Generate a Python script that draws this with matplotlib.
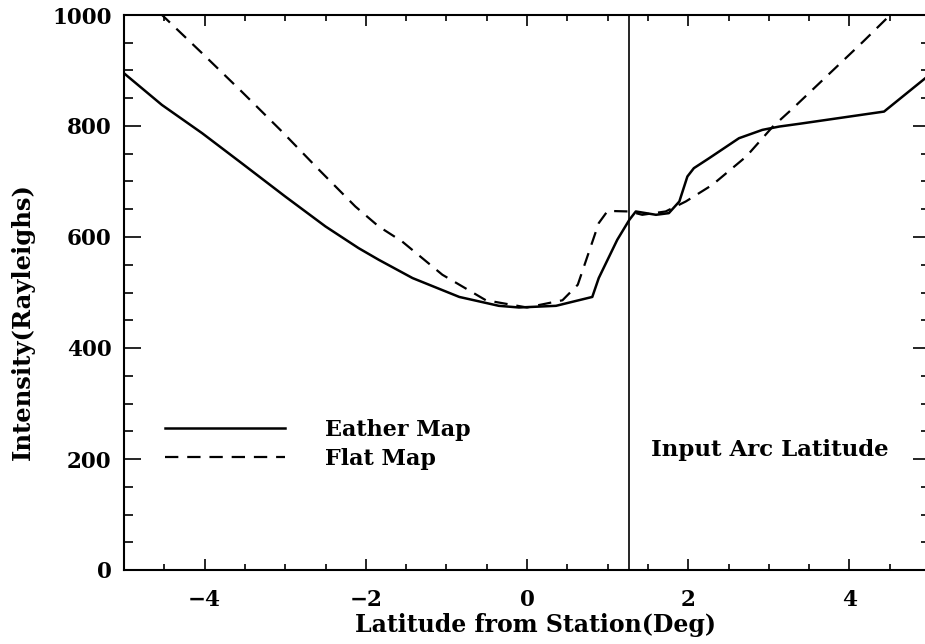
import matplotlib
matplotlib.use('Agg')
import matplotlib.pyplot as plt
from matplotlib.ticker import MultipleLocator

# Eather Map (solid)
eather_x = [-5.0, -4.53, -4.03, -3.54, -3.0, -2.5, -2.09, -1.84, -1.42, -0.84,
            -0.35, -0.10, 0.36, 0.81, 0.89, 1.12, 1.27, 1.35, 1.60, 1.76,
            1.89, 1.99, 2.07, 2.26, 2.63, 2.92, 3.13, 3.38, 4.43, 5.0]
eather_y = [895, 838, 787, 733, 673, 619, 580, 559, 526, 492,
            476, 473, 476, 492, 526, 595, 631, 646, 640, 643,
            664, 709, 724, 742, 778, 793, 799, 804, 826, 893]

# Flat Map (dashed)
flat_x = [-4.55, -4.03, -3.54, -3.04, -2.58, -2.13, -1.84, -1.55, -1.05, -0.51,
          0.0, 0.44, 0.63, 0.89, 1.0, 1.27, 1.43, 1.72, 1.97, 2.30,
          2.72, 3.05, 3.30, 3.67, 4.17, 4.52]
flat_y = [1003, 931, 862, 790, 721, 655, 619, 592, 532, 486,
          473, 486, 514, 625, 647, 646, 640, 646, 664, 694,
          745, 799, 832, 883, 952, 1002]

arc_lat = 1.27

plt.rcParams['font.family'] = ['DejaVu Serif']
plt.rcParams['font.weight'] = 'bold'
plt.rcParams['axes.labelweight'] = 'bold'

fig = plt.figure(figsize=(9.25, 6.44), dpi=100)
ax = fig.add_axes([124 / 925, 74 / 644, 806 / 925, 555 / 644])

ax.plot(eather_x, eather_y, c='black', lw=1.8, label='Eather Map')
ax.plot(flat_x, flat_y, c='black', lw=1.6, dashes=(6, 4), label='Flat Map')
ax.axvline(arc_lat, c='black', lw=1.2)

ax.set_xlim(-5, 5)
ax.set_ylim(0, 1000)
ax.xaxis.set_major_locator(MultipleLocator(2))
ax.xaxis.set_minor_locator(MultipleLocator(0.5))
ax.yaxis.set_major_locator(MultipleLocator(200))
ax.yaxis.set_minor_locator(MultipleLocator(50))

ax.tick_params(which='both', direction='in', top=True, right=True,
               labelsize=15.5, width=1.2)
ax.tick_params(axis='x', which='major', length=8, pad=14)
ax.tick_params(axis='x', which='minor', length=4.5)
ax.tick_params(axis='y', which='major', length=12, pad=9)
ax.tick_params(axis='y', which='minor', length=6.5)
for sp in ax.spines.values():
    sp.set_linewidth(1.5)

ax.set_xlabel('Latitude from Station(Deg)', fontsize=17, va='top')
ax.xaxis.set_label_coords(0.51, -0.078)
ax.set_ylabel('Intensity(Rayleighs)', fontsize=17.5)
ax.yaxis.set_label_coords(-0.11, 0.447)

ax.legend(loc='upper left', bbox_to_anchor=(0.051, 0.272), frameon=False,
          fontsize=16, handlelength=5.4, handletextpad=1.8, borderpad=0,
          borderaxespad=0, labelspacing=0.3)

ax.text(1.54, 216, 'Input Arc Latitude', fontsize=16.5, va='center', ha='left')

fig.savefig('out.png', dpi=100)
